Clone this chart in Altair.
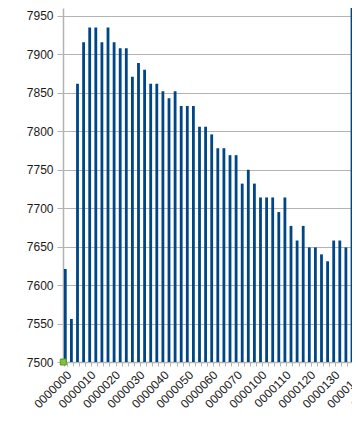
import altair as alt
import pandas as pd

categories = [
    "0000000", "0000002", "0000004", "0000006",
    "0000010", "0000012", "0000014", "0000016",
    "0000020", "0000022", "0000024", "0000026",
    "0000030", "0000032", "0000034", "0000036",
    "0000040", "0000042", "0000044", "0000046",
    "0000050", "0000052", "0000054", "0000056",
    "0000060", "0000062", "0000064", "0000066",
    "0000070", "0000072", "0000074", "0000076",
    "0000100", "0000102", "0000104", "0000106",
    "0000110", "0000112", "0000114", "0000116",
    "0000120", "0000122", "0000124", "0000126",
    "0000130", "0000132", "0000134", "0000136",
    "0000140", "0000142", "0000144", "0000146",
    "0000150", "0000152", "0000154", "0000156",
]

values = [
    7621, 7556, 7862, 7916, 7935, 7935, 7916, 7935,
    7916, 7908, 7908, 7871, 7889, 7880, 7862, 7862,
    7852, 7843, 7852, 7833, 7833, 7833, 7806, 7806,
    7796, 7778, 7778, 7769, 7769, 7732, 7750, 7732,
    7714, 7714, 7714, 7695, 7714, 7677, 7658, 7677,
    7649, 7649, 7640, 7631, 7658, 7658, 7649, 8050,
    8050,
]

marker_cat = ["0000000"]
marker_val = [7500]

y_ticks = [7500, 7550, 7600, 7650, 7700, 7750, 7800, 7850, 7900, 7950]

bars_df = pd.DataFrame({"cat": categories[: len(values)], "val": values})
marker_df = pd.DataFrame({"cat": marker_cat, "val": marker_val})

FONT = "Liberation Sans"
GRAY = "#b3b3b3"

x_scale = alt.Scale(domain=categories, range=[0, 340.1],
                    paddingInner=0.54, paddingOuter=0.147)
y_scale = alt.Scale(domain=[7500, 7960.4], nice=False, zero=False)

x_axis = alt.Axis(
    title=None, labelAngle=-45, labelOverlap=False,
    labelExpr="substring(datum.label, 6, 7) == '0' ? datum.label : ''",
    tickBand="extent", tickSize=4, tickColor=GRAY,
    domainColor=GRAY, domainWidth=1.5,
    labelFont=FONT, labelFontSize=12, labelColor="#1a1a1a",
    labelPadding=3, grid=False,
)
y_axis = alt.Axis(
    title=None, values=y_ticks, tickCount=10, format="d", labelOverlap=False,
    grid=True, gridColor=GRAY,
    tickSize=6, tickColor=GRAY, domainColor=GRAY, domainWidth=1.5,
    labelFont=FONT, labelFontSize=12, labelColor="#1a1a1a",
    labelPadding=4,
)

bars = alt.Chart(bars_df).mark_bar(color="#004586", clip=True).encode(
    x=alt.X("cat:N", scale=x_scale, axis=x_axis, sort=categories),
    y=alt.Y("val:Q", scale=y_scale, axis=y_axis),
    y2=alt.datum(7500),
)

marker = alt.Chart(marker_df).mark_point(
    shape="square", filled=True, size=36, color="#7fc241",
    stroke="#579d1c", strokeWidth=1, opacity=1, xOffset=-2,
).encode(
    x=alt.X("cat:N", scale=x_scale, axis=x_axis, sort=categories),
    y=alt.Y("val:Q", scale=y_scale, axis=y_axis),
)

chart = alt.layer(bars, marker).properties(
    width=289, height=354,
    autosize=alt.AutoSizeParams(type="none"),
    padding={"left": 55, "top": 0, "right": 0, "bottom": 62},
    background="white",
).configure_view(stroke=None)

chart.save("out.html", embed_options={"renderer": "svg", "actions": False})
